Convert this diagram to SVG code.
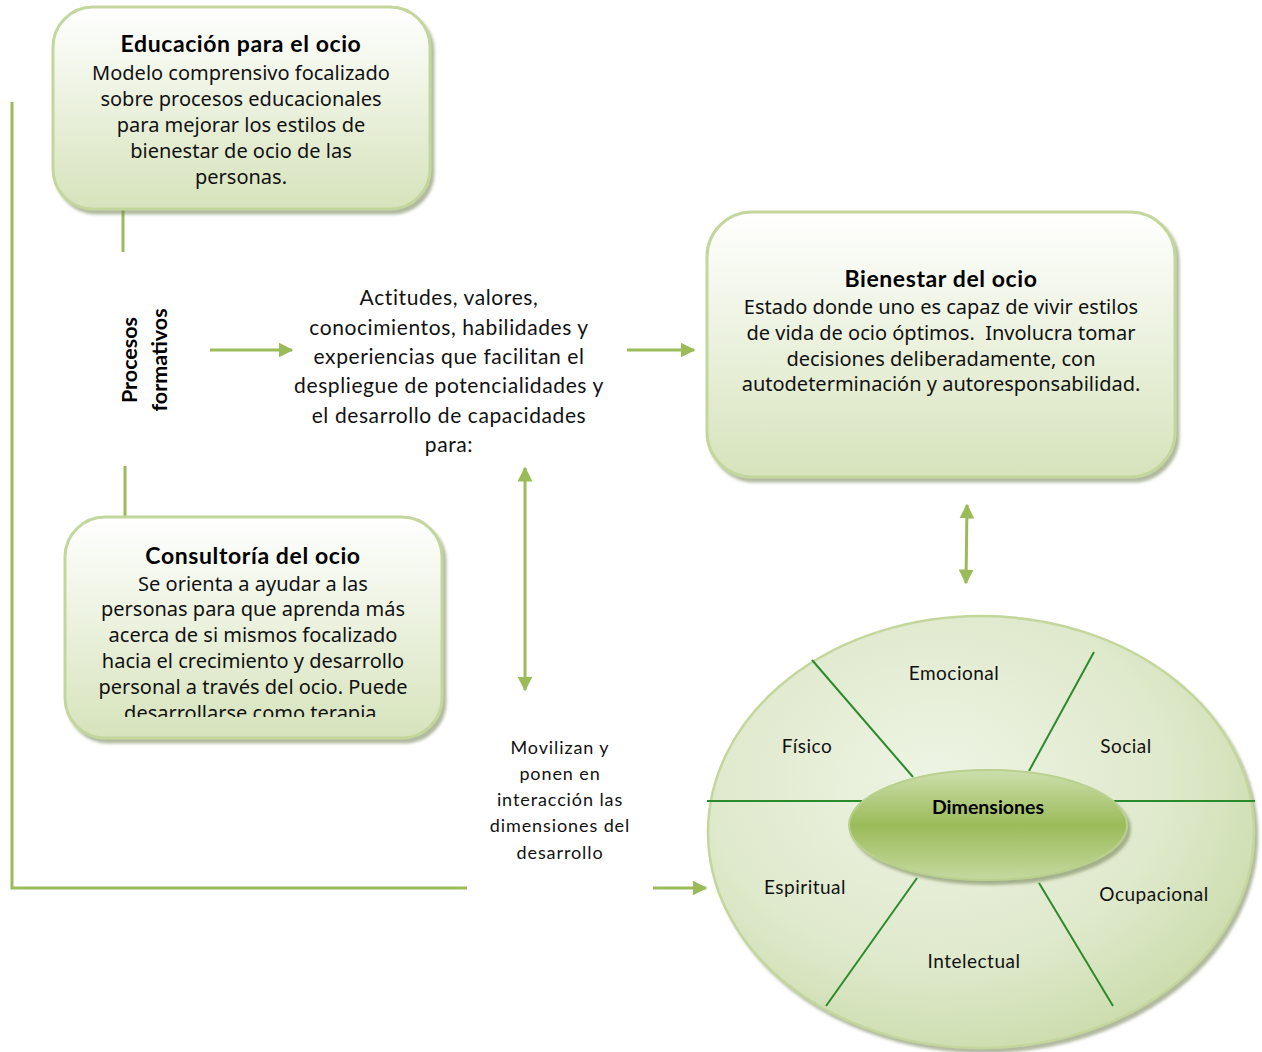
<svg xmlns="http://www.w3.org/2000/svg" width="1262" height="1052" viewBox="0 0 1262 1052">
<defs>
<linearGradient id="boxGrad" x1="0" y1="0" x2="0" y2="1">
<stop offset="0" stop-color="#ffffff"/>
<stop offset="1" stop-color="#d6e3bb"/>
</linearGradient>
<radialGradient id="bigGrad" cx="0.42" cy="0.38" r="0.7">
<stop offset="0" stop-color="#eef4e4"/>
<stop offset="0.6" stop-color="#dfe9cc"/>
<stop offset="1" stop-color="#c8daa7"/>
</radialGradient>
<linearGradient id="centerGrad" x1="0" y1="0" x2="0" y2="1">
<stop offset="0" stop-color="#cddfae"/>
<stop offset="0.5" stop-color="#9bbb59"/>
<stop offset="1" stop-color="#c5d9a0"/>
</linearGradient>
<filter id="shadow" x="-10%" y="-10%" width="125%" height="130%">
<feDropShadow dx="3" dy="4" stdDeviation="1.5" flood-color="#6f7f50" flood-opacity="0.55"/>
</filter>
<marker id="arrow" viewBox="0 0 10 10" refX="9" refY="5" markerWidth="5" markerHeight="5" orient="auto-start-reverse" markerUnits="strokeWidth">
<path d="M0,0 L10,5 L0,10 z" fill="#9bbb59"/>
</marker>
<clipPath id="clipCons">
<rect x="60" y="510" width="400" height="207"/>
</clipPath>
<style>
.box { fill: url(#boxGrad); stroke: #c3d69b; stroke-width: 3; filter: url(#shadow); }
.title { font-family: Lato, "Liberation Sans", sans-serif; font-weight: bold; font-size: 23px; letter-spacing: 0.6px; fill: #000; text-anchor: middle; }
.rot { font-size: 21.5px; letter-spacing: 0px; }
.dim { font-size: 19.5px; letter-spacing: 0px; }
.body { font-family: "Noto Sans", "DejaVu Sans", sans-serif; font-size: 20px; fill: #111; text-anchor: middle; }
.cal { font-family: Lato, "Liberation Sans", sans-serif; fill: #111; text-anchor: middle; }
.mid { font-size: 21px; letter-spacing: 0.6px; }
.mov { font-size: 18px; letter-spacing: 0.9px; }
.conn { stroke: #9bbb59; stroke-width: 3; fill: none; }
.spoke { stroke: #2b8a2b; stroke-width: 2; fill: none; }
.lbl { font-family: Lato, "Liberation Sans", sans-serif; font-size: 19px; letter-spacing: 0.5px; fill: #111; text-anchor: middle; }
</style>
</defs>
<rect width="1262" height="1052" fill="#ffffff"/>

<g id="connectors">
<line class="conn" x1="123" y1="210" x2="123" y2="252"/>
<line class="conn" x1="125" y1="466" x2="125" y2="517"/>
<polyline class="conn" points="12,102 12,888 467,888"/>
<line class="conn" x1="210" y1="350" x2="292" y2="350" marker-end="url(#arrow)"/>
<line class="conn" x1="627" y1="350" x2="694" y2="350" marker-end="url(#arrow)"/>
<line class="conn" x1="525" y1="468" x2="525" y2="690" marker-start="url(#arrow)" marker-end="url(#arrow)"/>
<line class="conn" x1="967" y1="505" x2="966" y2="583" marker-start="url(#arrow)" marker-end="url(#arrow)"/>
<line class="conn" x1="653" y1="888" x2="706" y2="888" marker-end="url(#arrow)"/>
</g>

<g id="educacion">
<rect class="box" x="53" y="7" width="377" height="202" rx="40"/>
<text class="title" x="241" y="52">Educación para el ocio</text>
<text class="body" x="241" y="80">Modelo comprensivo focalizado</text>
<text class="body" x="241" y="106">sobre procesos educacionales</text>
<text class="body" x="241" y="132">para mejorar los estilos de</text>
<text class="body" x="241" y="158">bienestar de ocio de las</text>
<text class="body" x="241" y="184">personas.</text>
</g>

<g id="procesos">
<text class="title rot" transform="translate(137,360) rotate(-90)" x="0" y="0">Procesos</text>
<text class="title rot" transform="translate(167,360) rotate(-90)" x="0" y="0">formativos</text>
</g>

<g id="consultoria">
<rect class="box" x="65" y="517" width="377" height="221" rx="40"/>
<text class="title" x="253" y="564">Consultoría del ocio</text>
<text class="body" x="253" y="591">Se orienta a ayudar a las</text>
<text class="body" x="253" y="616">personas para que aprenda más</text>
<text class="body" x="253" y="642">acerca de si mismos focalizado</text>
<text class="body" x="253" y="668">hacia el crecimiento y desarrollo</text>
<text class="body" x="253" y="694">personal a través del ocio. Puede</text>
<text class="body" x="253" y="720" clip-path="url(#clipCons)">desarrollarse como terapia.</text>
</g>

<g id="actitudes">
<text class="cal mid" x="449" y="305">Actitudes, valores,</text>
<text class="cal mid" x="449" y="335">conocimientos, habilidades y</text>
<text class="cal mid" x="449" y="364">experiencias que facilitan el</text>
<text class="cal mid" x="449" y="393">despliegue de potencialidades y</text>
<text class="cal mid" x="449" y="423">el desarrollo de capacidades</text>
<text class="cal mid" x="449" y="452">para:</text>
</g>

<g id="bienestar">
<rect class="box" x="707" y="212" width="468" height="265" rx="45"/>
<text class="title" x="941" y="287">Bienestar del ocio</text>
<text class="body" x="941" y="314">Estado donde uno es capaz de vivir estilos</text>
<text class="body" x="941" y="340" xml:space="preserve">de vida de ocio óptimos.  Involucra tomar</text>
<text class="body" x="941" y="366">decisiones deliberadamente, con</text>
<text class="body" x="941" y="391">autodeterminación y autoresponsabilidad.</text>
</g>

<g id="movilizan">
<text class="cal mov" x="560" y="754">Movilizan y</text>
<text class="cal mov" x="560" y="780">ponen en</text>
<text class="cal mov" x="560" y="806">interacción las</text>
<text class="cal mov" x="560" y="832">dimensiones del</text>
<text class="cal mov" x="560" y="859">desarrollo</text>
</g>

<g id="dimensiones">
<ellipse cx="981" cy="832" rx="273" ry="216" fill="url(#bigGrad)" stroke="#c3d69b" stroke-width="2.5" filter="url(#shadow)"/>
<line class="spoke" x1="707" y1="801" x2="862" y2="801"/>
<line class="spoke" x1="1114" y1="801" x2="1255" y2="801"/>
<line class="spoke" x1="812" y1="660" x2="913" y2="777"/>
<line class="spoke" x1="1094" y1="652" x2="1029" y2="771"/>
<line class="spoke" x1="917" y1="878" x2="826" y2="1006"/>
<line class="spoke" x1="1039" y1="883" x2="1113" y2="1006"/>
<ellipse cx="988" cy="825" rx="139" ry="55" fill="url(#centerGrad)" stroke="#b9d08e" stroke-width="2" filter="url(#shadow)"/>
<text class="title dim" x="988" y="814">Dimensiones</text>
<text class="lbl" x="954" y="680">Emocional</text>
<text class="lbl" x="807" y="753">Físico</text>
<text class="lbl" x="1126" y="753">Social</text>
<text class="lbl" x="805" y="894">Espiritual</text>
<text class="lbl" x="1154" y="901">Ocupacional</text>
<text class="lbl" x="974" y="968">Intelectual</text>
</g>
</svg>
